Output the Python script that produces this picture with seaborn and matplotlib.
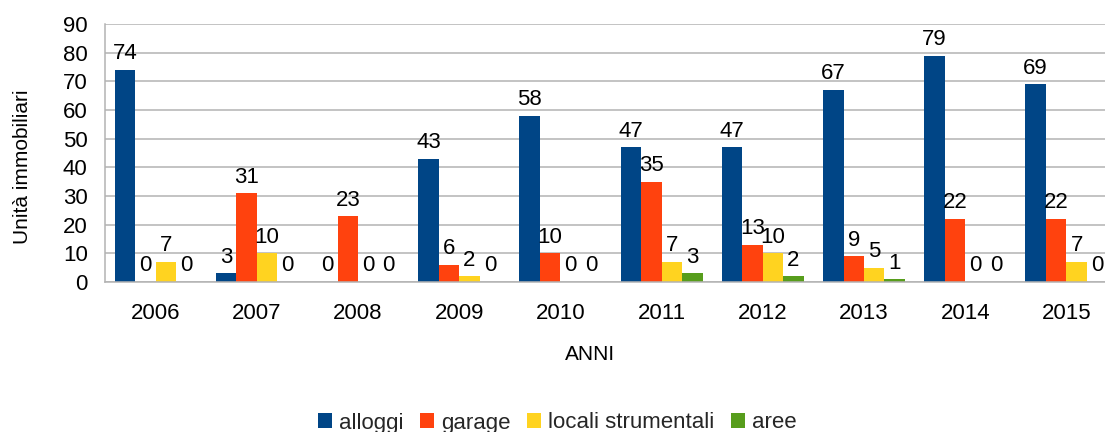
import matplotlib
matplotlib.use("Agg")
import matplotlib.pyplot as plt
import seaborn as sns
import pandas as pd

anni = ["2006", "2007", "2008", "2009", "2010", "2011", "2012", "2013", "2014", "2015"]
alloggi = [74, 3, 0, 43, 58, 47, 47, 67, 79, 69]
garage = [0, 31, 23, 6, 10, 35, 13, 9, 22, 22]
locali_strumentali = [7, 10, 0, 2, 0, 7, 10, 5, 0, 7]
aree = [0, 0, 0, 0, 0, 3, 2, 1, 0, 0]
serie = ["alloggi", "garage", "locali strumentali", "aree"]
colori = ["#004586", "#ff420e", "#ffd320", "#579d1c"]
y_ticks = [0, 10, 20, 30, 40, 50, 60, 70, 80, 90]

rows = []
for nome, valori in zip(serie, [alloggi, garage, locali_strumentali, aree]):
    for a, v in zip(anni, valori):
        rows.append({"ANNI": a, "valore": v, "serie": nome})
df = pd.DataFrame(rows)

sns.set_theme(style="white")
plt.rcParams["font.family"] = ["Liberation Sans", "DejaVu Sans"]

W, H = 1105, 432
fig = plt.figure(figsize=(W / 100, H / 100), dpi=100)
ax = fig.add_axes([105 / W, 1 - 282 / H, (1117 - 105) / W, (282 - 24) / H])

sns.barplot(data=df, x="ANNI", y="valore", hue="serie", hue_order=serie,
            order=anni, palette=colori, saturation=1, width=0.81,
            linewidth=0, errorbar=None, ax=ax)

grid_c = "#b3b3b3"
ax.set_ylim(0, 90)
ax.set_xlim(-0.5, len(anni) - 0.5)
ax.set_yticks(y_ticks)
ax.set_yticklabels([str(t) for t in y_ticks])
ax.yaxis.grid(True, color=grid_c, linewidth=1.1)
ax.xaxis.grid(False)
ax.set_axisbelow(True)
ax.set_xticks([i - 0.5 for i in range(len(anni))], minor=False)
ax.set_xticklabels([])
ax.set_xticks(range(len(anni)), minor=True)
ax.set_xticklabels(anni, minor=True)
ax.tick_params(axis="x", which="major", length=7.5, width=1.1, color=grid_c, direction="out")
ax.tick_params(axis="x", which="minor", length=0, pad=15, labelsize=16, labelcolor="#000000")
ax.tick_params(axis="y", length=7.5, width=1.1, color=grid_c, direction="out", pad=5,
               labelsize=16, labelcolor="#000000")
for s in ["top", "right"]:
    ax.spines[s].set_visible(False)
for s in ["left", "bottom"]:
    ax.spines[s].set_color(grid_c)
    ax.spines[s].set_linewidth(1.1)

for cont in ax.containers:
    ax.bar_label(cont, labels=[f"{int(v)}" for v in cont.datavalues],
                 padding=4, fontsize=16, color="#000000")

ax.set_xlabel("")
ax.set_ylabel("")
fig.text(590 / W, 1 - 355 / H, "ANNI", ha="center", va="center", fontsize=15, color="#000000")
fig.text(23 / W, 1 - 167 / H, "Unità immobiliari", ha="center", va="center",
         rotation=90, fontsize=15, color="#000000")

sns.move_legend(ax, "center", bbox_to_anchor=(557 / W, 1 - 423 / H),
                bbox_transform=fig.transFigure, ncol=4, frameon=False, title=None,
                fontsize=16, handlelength=0.64, handleheight=0.64,
                handletextpad=0.3, columnspacing=0.75)

fig.savefig("out.png", dpi=100)
